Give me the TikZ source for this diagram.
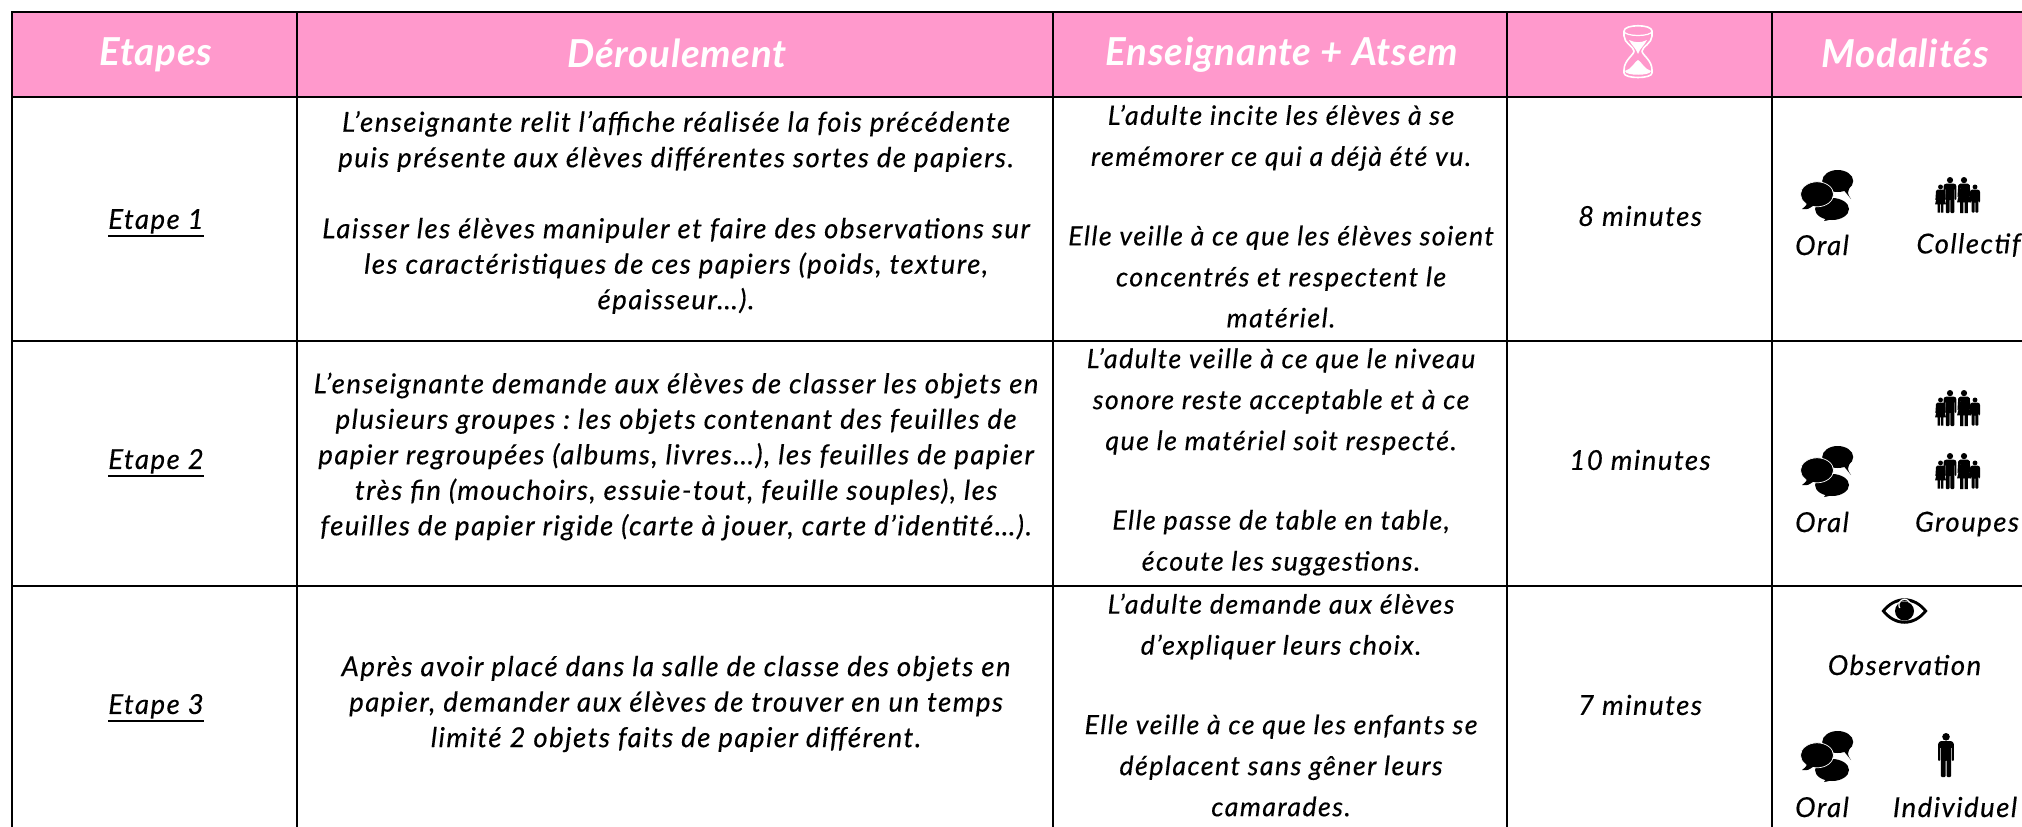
\documentclass[tikz,border=0pt]{standalone}
\usepackage{fontspec}
\setmainfont{Lato}[LetterSpace=5.5,ItalicFeatures={FakeBold=0.35},BoldItalicFeatures={LetterSpace=2}]
\newcommand{\ulmark}[1]{\leavevmode\vtop{\hbox{#1}\kern1.5pt\hrule height 1.8pt}}
\frenchspacing
\definecolor{headpink}{HTML}{FF99CC}
\tikzset{
  x=1pt,y=-1pt,
  hcell/.style={draw=black,line width=2.4pt,fill=headpink,rectangle,minimum width=#1,minimum height=85pt,inner sep=0pt},
  bcell/.style={draw=black,line width=2.4pt,rectangle,minimum width=#1,inner sep=0pt},
  headtxt/.style={text=white,font=\fontsize{38.5}{46}\selectfont\bfseries\itshape,inner sep=0pt},
  bodytxt/.style={font=\fontsize{27.5}{35.5}\selectfont\itshape,align=center,inner sep=0pt,text=black},
  sidetxt/.style={font=\fontsize{26.7}{41}\selectfont\itshape,align=center,inner sep=0pt,text=black},
  figman/.pic={
    \fill[black] (0,3.8) circle[radius=3.8pt];
    \fill[black,rounded corners=1pt] (-5.5,8) -- (5.5,8) -- (7.8,10) -- (7.8,28) -- (5.8,28) -- (5.8,14) -- (5.2,14) -- (5.2,44) -- (0.5,44) -- (0.5,27) -- (-0.5,27) -- (-0.5,44) -- (-5.2,44) -- (-5.2,14) -- (-5.8,14) -- (-5.8,28) -- (-7.8,28) -- (-7.8,10) -- cycle;
  },
  figdress/.pic={
    \fill[black] (0,3.8) circle[radius=3.8pt];
    \fill[black] (-4.5,8) -- (4.5,8) -- (7,10) -- (8,24) -- (6.2,24) -- (5,14) -- (4.5,14) -- (8.5,31) -- (4.6,31) -- (4.6,44) -- (0.8,44) -- (0.8,31) -- (-0.8,31) -- (-0.8,44) -- (-4.6,44) -- (-4.6,31) -- (-8.5,31) -- (-4.5,14) -- (-5,14) -- (-6.2,24) -- (-8,24) -- (-7,10) -- cycle;
  },
  family/.pic={
    \pic[scale=.82] at (-9,0) {figman};
    \pic[scale=.82] at (5,0) {figdress};
    \pic[scale=.64] at (-18.5,7.5) {figdress};
    \pic[scale=.64] at (16,7.5) {figman};
  },
  bubbles/.pic={
    \fill[black] (31,39) ellipse[x radius=17pt,y radius=11pt];
    \fill[black] (22,46) .. controls (26,47) .. (23,51) .. controls (29,50) .. (35,46) -- cycle;
    \fill[black] (36.7,11) ellipse[x radius=15.5pt,y radius=11pt];
    \fill[black] (41,18) .. controls (45,24) .. (50,29) .. controls (46,23) .. (50,15) -- cycle;
    \draw[white,line width=.7pt,fill=black] (16,24.3) ellipse[x radius=16.5pt,y radius=12.5pt];
    \fill[black] (5,31) .. controls (6,35) .. (1,39) .. controls (7,39.5) .. (13,35) -- cycle;
  },
  eyeicon/.pic={
    \fill[black] (-23,0) .. controls (-10,-17) and (10,-17) .. (23,0) .. controls (10,17) and (-10,17) .. (-23,0) -- cycle;
    \fill[white] (-19,0) .. controls (-8,-13) and (8,-13) .. (19,0) .. controls (8,13) and (-8,13) .. (-19,0) -- cycle;
    \fill[black] (0,0) circle[radius=9.5pt];
    \draw[white,line width=1.2pt] (-4.8,-3) arc[start angle=-148,end angle=-330,radius=5.7pt];
  },
  hourglass/.pic={
    \draw[white,line width=1.6pt,line join=round] (-14,-20) .. controls (-14,-27) and (14,-27) .. (14,-20) -- (14,-15) .. controls (14,-8) and (4,-4) .. (4,0) .. controls (4,4) and (14,9) .. (14,19) -- (14,22) .. controls (14,28) and (-14,28) .. (-14,22) -- (-14,19) .. controls (-14,9) and (-4,4) .. (-4,0) .. controls (-4,-4) and (-14,-8) .. (-14,-15) -- cycle;
    \draw[white,line width=1.2pt] (-14,-20) .. controls (-14,-14) and (14,-14) .. (14,-20);
    \fill[white] (-9,-11) .. controls (-3,-8) and (3,-8) .. (9,-11) .. controls (6,-5) and (2,-3) .. (0,3) .. controls (-2,-3) and (-6,-5) .. (-9,-11) -- cycle;
    \fill[white] (-13,20) .. controls (-6,18) and (-3,10) .. (0,9) .. controls (3,10) and (6,18) .. (13,20) .. controls (13,25) and (-13,25) .. (-13,20) -- cycle;
  },
}
\begin{document}
\begin{tikzpicture}
\path[use as bounding box,clip] (0,0) rectangle (2022,827);
\fill[white] (0,0) rectangle (2022,827);
% header row
\node[hcell=285pt] (h1) at (154.5,54.75) {};
\node[hcell=756pt] (h2) at (675,54.75) {};
\node[hcell=454pt] (h3) at (1280,54.75) {};
\node[hcell=265pt] (h4) at (1639.5,54.75) {};
\node[hcell=300pt] (h5) at (1922,54.75) {};
% body rows
\node[bcell=285pt,minimum height=244pt] (a1) at (154.5,219) {};
\node[bcell=756pt,minimum height=244pt] (b1) at (675,219) {};
\node[bcell=454pt,minimum height=244pt] (c1) at (1280,219) {};
\node[bcell=265pt,minimum height=244pt] (d1) at (1639.5,219) {};
\node[bcell=300pt,minimum height=244pt] (e1) at (1922,219) {};
\node[bcell=285pt,minimum height=245pt] (a2) at (154.5,463.5) {};
\node[bcell=756pt,minimum height=245pt] (b2) at (675,463.5) {};
\node[bcell=454pt,minimum height=245pt] (c2) at (1280,463.5) {};
\node[bcell=265pt,minimum height=245pt] (d2) at (1639.5,463.5) {};
\node[bcell=300pt,minimum height=245pt] (e2) at (1922,463.5) {};
\node[bcell=285pt,minimum height=300pt] (a3) at (154.5,736) {};
\node[bcell=756pt,minimum height=300pt] (b3) at (675,736) {};
\node[bcell=454pt,minimum height=300pt] (c3) at (1280,736) {};
\node[bcell=265pt,minimum height=300pt] (d3) at (1639.5,736) {};
\node[bcell=300pt,minimum height=300pt] (e3) at (1922,736) {};
% header text
\node[headtxt] (t1) at (156,55) {Etapes};
\node[headtxt] (t2) at (677,53) {Déroulement};
\node[headtxt] (t3) at (1282,55) {Enseignante + Atsem};
\pic at (1638,51) {hourglass};
\node[headtxt] (t5) at (1905,53) {Modalités};
% first column
\node[bodytxt] (ea) at (156,223) {\ulmark{Etape 1}};
\node[bodytxt] (eb) at (156,463) {\ulmark{Etape 2}};
\node[bodytxt] (ec) at (156,708) {\ulmark{Etape 3}};
% second column
\node[bodytxt] (da) at (676,212.5) {L'enseignante relit l'affiche réalisée la fois précédente\\puis présente aux élèves différentes sortes de papiers.\\[35.5pt]Laisser les élèves manipuler et faire des observations sur\\les caractéristiques de ces papiers (poids, texture,\\épaisseur…).};
\node[bodytxt] (db) at (676,456.5) {L'enseignante demande aux élèves de classer les objets en\\plusieurs groupes : les objets contenant des feuilles de\\papier regroupées (albums, livres…), les feuilles de papier\\très fin (mouchoirs, essuie-tout, feuille souples), les\\feuilles de papier rigide (carte à jouer, carte d'identité…).};
\node[bodytxt] (dc) at (676,704) {Après avoir placé dans la salle de classe des objets en\\papier, demander aux élèves de trouver en un temps\\limité 2 objets faits de papier différent.};
% third column
\node[sidetxt] (ca) at (1281,216.2) {L'adulte incite les élèves à se\\remémorer ce qui a déjà été vu.\\[38.5pt]Elle veille à ce que les élèves soient\\concentrés et respectent le\\matériel.};
\node[sidetxt] (cb) at (1281,461.8) {L'adulte veille à ce que le niveau\\sonore reste acceptable et à ce\\que le matériel soit respecté.\\[38.5pt]Elle passe de table en table,\\écoute les suggestions.};
\node[sidetxt] (cc) at (1281,705) {L'adulte demande aux élèves\\d'expliquer leurs choix.\\[38.5pt]Elle veille à ce que les enfants se\\déplacent sans gêner leurs\\camarades.};
% fourth column
\node[bodytxt] (ma) at (1640,216) {8 minutes};
\node[bodytxt] (mb) at (1640,460) {10 minutes};
\node[bodytxt] (mc) at (1640,705) {7 minutes};
% fifth column, row one
\pic at (1801,170) {bubbles};
\pic at (1959,177) {family};
\node[bodytxt] (oa) at (1822,245) {Oral};
\node[bodytxt] (co) at (1968.5,245) {Collectif};
% fifth column, row two
\pic at (1959,390) {family};
\pic at (1959,453) {family};
\pic at (1801,446) {bubbles};
\node[bodytxt] (ob) at (1822,522) {Oral};
\node[bodytxt] (gr) at (1967,524) {Groupes};
% fifth column, row three
\pic at (1904.5,611) {eyeicon};
\node[bodytxt] (ob2) at (1904.5,665) {Observation};
\pic at (1801,731) {bubbles};
\pic at (1946,733) {figman};
\node[bodytxt] (oc) at (1822,807) {Oral};
\node[bodytxt] (in) at (1955,807) {Individuel};
\end{tikzpicture}
\end{document}
